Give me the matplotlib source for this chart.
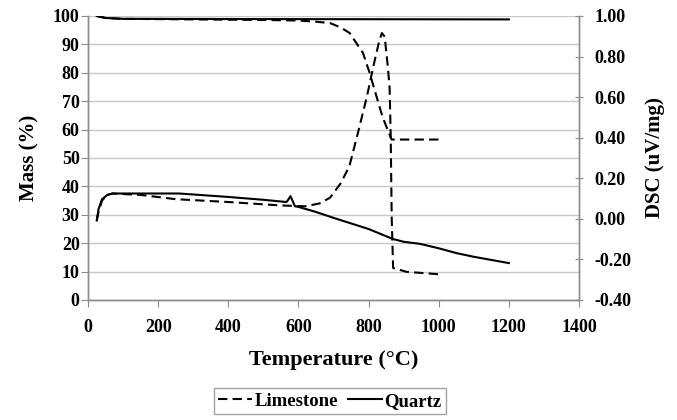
import matplotlib
matplotlib.use("Agg")
import matplotlib.pyplot as plt
from matplotlib.lines import Line2D

plt.rcParams['font.family'] = ['Liberation Serif', 'DejaVu Serif']
plt.rcParams['font.weight'] = 'bold'

# Mass (%) curves, left axis
lime_mass_T = [25, 50, 100, 300, 500, 600, 650, 690, 720, 746, 784, 803, 823, 840, 858, 866, 900, 1000]
lime_mass = [100, 99.3, 99.0, 98.8, 98.6, 98.4, 98.0, 97.5, 96.0, 94.0, 87.0, 80.0, 71.5, 64.4, 58.8, 56.5, 56.5, 56.5]
quartz_mass_T = [25, 50, 100, 600, 1200]
quartz_mass = [100, 99.3, 99.0, 98.9, 98.8]

# DSC (uV/mg) curves, right axis
lime_dsc_T = [25, 30, 40, 55, 70, 150, 250, 400, 550, 620, 660, 690, 720, 745, 770, 795, 815, 830, 838,
              846, 855, 860, 863, 866, 870, 908, 1000]
lime_dsc = [-0.008, 0.034, 0.09, 0.118, 0.125, 0.118, 0.097, 0.083, 0.066, 0.062, 0.076, 0.104, 0.174,
            0.258, 0.426, 0.601, 0.762, 0.874, 0.916, 0.898, 0.748, 0.644, 0.42, 0.0, -0.242, -0.261, -0.273]
quartz_dsc_T = [25, 30, 40, 55, 70, 150, 260, 400, 500, 566, 572, 577, 583, 590, 600, 650, 700, 800,
                869, 900, 946, 1000, 1051, 1100, 1200]
quartz_dsc = [-0.008, 0.048, 0.097, 0.118, 0.125, 0.125, 0.125, 0.108, 0.094, 0.083, 0.097, 0.112, 0.09,
              0.062, 0.059, 0.034, 0.005, -0.05, -0.099, -0.113, -0.123, -0.145, -0.169, -0.187, -0.218]

x_ticks = [0, 200, 400, 600, 800, 1000, 1200, 1400]
mass_ticks = list(range(0, 101, 10))
dsc_ticks = [-0.4, -0.2, 0.0, 0.2, 0.4, 0.6, 0.8, 1.0]

fig = plt.figure(figsize=(6.77, 4.2), dpi=100)
ax = fig.add_axes([88/677, 1-300/420, (579-88)/677, (300-16)/420])
ax2 = ax.twinx()

spine_c = '#8c8c8c'
grid_c = '#c8c8c8'
dash = (0, (4.5, 2.5))

ax.plot(lime_mass_T, lime_mass, color='black', lw=1.5, ls=dash)
ax.plot(quartz_mass_T, quartz_mass, color='black', lw=1.5)
ax2.plot(lime_dsc_T, lime_dsc, color='black', lw=1.5, ls=dash)
ax2.plot(quartz_dsc_T, quartz_dsc, color='black', lw=1.5)

ax.set_xlim(0, 1400)
ax.set_ylim(0, 100)
ax2.set_ylim(-0.4, 1.0)
ax.set_xticks(x_ticks)
ax.set_yticks(mass_ticks)
ax2.set_yticks(dsc_ticks)
ax2.set_yticklabels([f"{v:.2f}" for v in dsc_ticks])

ax.yaxis.grid(True, color=grid_c, lw=1)
ax.set_axisbelow(True)

for a in (ax, ax2):
    for s in a.spines.values():
        s.set_color(spine_c)
        s.set_linewidth(1)
    a.spines['top'].set_visible(False)

ax.tick_params(axis='x', colors=spine_c, labelcolor='black', labelsize=13, length=5, direction='out', pad=9)
ax.tick_params(axis='y', colors=spine_c, labelcolor='black', labelsize=13, length=5, direction='out', pad=1)
ax2.tick_params(axis='y', colors=spine_c, labelcolor='black', labelsize=13, length=6, direction='inout', pad=8)
for lab in ax.get_xticklabels() + ax.get_yticklabels() + ax2.get_yticklabels():
    lab.set_fontweight('bold')

ax.set_xlabel('Temperature (°C)', fontsize=16, fontweight='bold', labelpad=10)
ax.set_ylabel('Mass (%)', fontsize=15, fontweight='bold', labelpad=10)
ax2.set_ylabel('DSC (uV/mg)', fontsize=15, fontweight='bold', labelpad=10)

handles = [Line2D([], [], color='black', lw=1.5, ls=(0, (4.5, 2.5))),
           Line2D([], [], color='black', lw=1.5)]
leg = fig.legend(handles, ['Limestone', 'Quartz'], loc='center', bbox_to_anchor=(330/677, 1-401/420),
                 ncol=2, frameon=True, fancybox=False, handlelength=1.8,
                 handletextpad=0.15, columnspacing=0.5, borderpad=0.25, borderaxespad=0,
                 prop={'weight': 'bold', 'size': 13.5})
leg.get_frame().set_edgecolor(spine_c)
leg.get_frame().set_linewidth(1)

fig.savefig('out.png', dpi=100)
